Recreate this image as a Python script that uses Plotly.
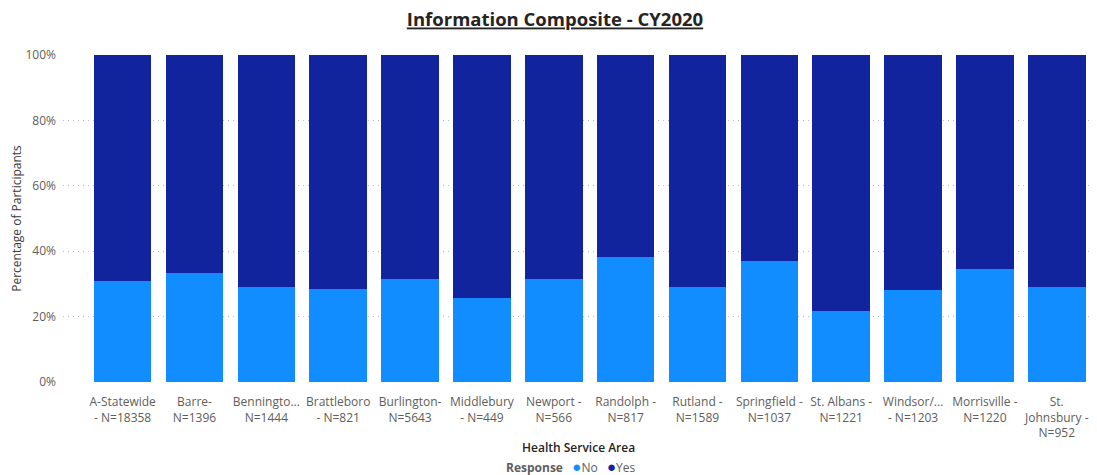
import plotly.graph_objects as go

# Health service areas (tick labels wrapped the way the chart shows them)
areas = [
    "A-Statewide<br>- N=18358",
    "Barre-<br>N=1396",
    "Benningto...<br>N=1444",
    "Brattleboro<br>- N=821",
    "Burlington-<br>N=5643",
    "Middlebury<br>- N=449",
    "Newport -<br>N=566",
    "Randolph -<br>N=817",
    "Rutland -<br>N=1589",
    "Springfield -<br>N=1037",
    "St. Albans -<br>N=1221",
    "Windsor/...<br>- N=1203",
    "Morrisville -<br>N=1220",
    "St.<br>Johnsbury -<br>N=952",
]

# share of participants, in percent
no_pct = [30.9, 33.3, 29.1, 28.4, 31.5, 25.7, 31.5, 38.2, 29.1, 37.0, 21.7, 28.1, 34.6, 29.1]
yes_pct = [round(100 - v, 1) for v in no_pct]

y_ticks = [0, 20, 40, 60, 80, 100]
y_tick_text = ["0%", "20%", "40%", "60%", "80%", "100%"]

NO_COLOR = "#118DFF"
YES_COLOR = "#12239E"
FONT = "Open Sans, Noto Sans, sans-serif"

# the page adds an 8px body margin, so the figure is sized to fit inside it
W, H = 1089, 467

fig = go.Figure()
fig.add_trace(go.Bar(x=areas, y=no_pct, name="No", marker_color=NO_COLOR,
                     marker_line_width=0))
fig.add_trace(go.Bar(x=areas, y=yes_pct, name="Yes", marker_color=YES_COLOR,
                     marker_line_width=0))

fig.update_layout(
    width=W,
    height=H,
    barmode="stack",
    bargap=0.2,
    showlegend=False,
    plot_bgcolor="white",
    paper_bgcolor="white",
    font=dict(family=FONT, size=12, color="#605E5C"),
    margin=dict(l=55, r=0, t=47, b=93, autoexpand=False),
    title=dict(
        text="<u><b>Information Composite - CY2020</b></u>",
        x=547 / W, xanchor="center", y=1 - 12 / H, yanchor="middle",
        font=dict(family=FONT, size=18.5, color="#252423"),
    ),
    xaxis=dict(
        range=[-0.83, 13.56],
        showgrid=False,
        zeroline=False,
        showline=False,
        ticks="",
        ticklabelstandoff=11,
        ticklabeloverflow="allow",
        tickfont=dict(size=12, color="#605E5C"),
        tickangle=0,
        automargin=False,
    ),
    yaxis=dict(
        range=[0, 100],
        tickvals=y_ticks,
        ticktext=y_tick_text,
        showgrid=True,
        gridcolor="#BEBEBE",
        griddash="1px,4px",
        gridwidth=1,
        zeroline=False,
        ticks="",
        ticklabelstandoff=6,
        automargin=False,
        tickfont=dict(size=12, color="#605E5C"),
        title=dict(text="Percentage of Participants",
                   font=dict(size=12, color="#3B3A39"), standoff=5),
    ),
)

fig.add_annotation(
    text="Health Service Area",
    xref="paper", yref="paper",
    x=(570 - 55) / 1034, y=(374 - 439) / 327,
    xanchor="center", yanchor="middle",
    showarrow=False,
    font=dict(family=FONT, size=12, color="#252423", weight=600),
)

# compact legend line: "Response ●No ●Yes"
dot = "<span style='color:{};font-size:15px'>●</span>"
gap = "\u00a0\u00a0\u00a0"
legend_text = (
    "<b>Response</b>" + gap
    + dot.format(NO_COLOR) + "No" + gap
    + dot.format(YES_COLOR) + "Yes"
)
fig.add_annotation(
    text=legend_text,
    xref="paper", yref="paper",
    x=(562 - 55) / 1034, y=(374 - 458) / 327,
    xanchor="center", yanchor="middle",
    showarrow=False,
    font=dict(family=FONT, size=12, color="#605E5C"),
)

fig.write_html("out.html")
